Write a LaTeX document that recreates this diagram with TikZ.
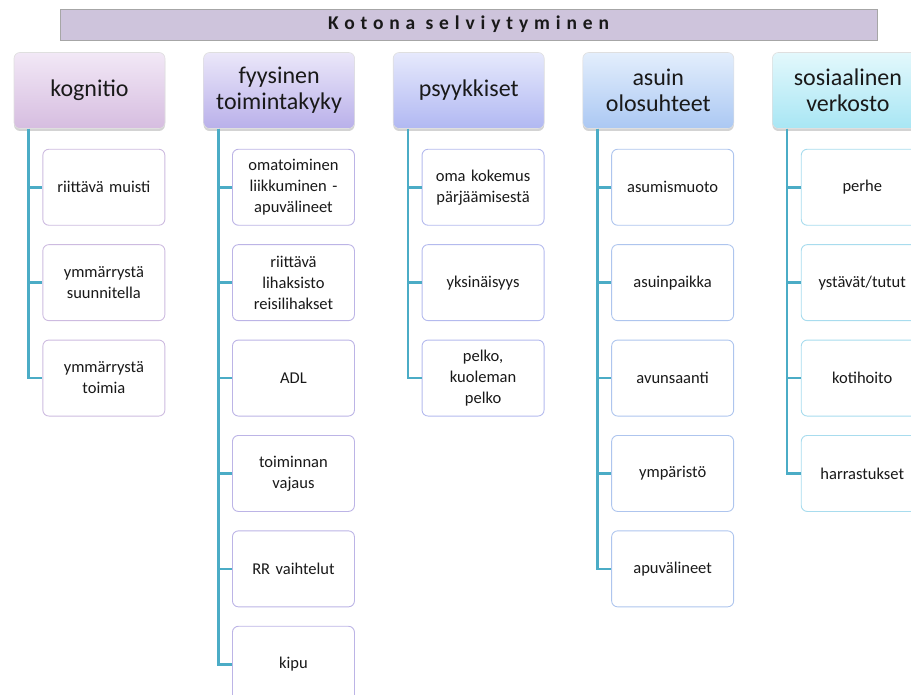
\documentclass[tikz,border=0pt]{standalone}
\usepackage{fontspec}
\setmainfont{Carlito}
\usetikzlibrary{positioning,shadows}

\definecolor{linkteal}{HTML}{4BACC6}
\definecolor{titlefill}{HTML}{CEC4DC}
\definecolor{kogtop}{HTML}{F2E8F6}
\definecolor{kogbot}{HTML}{D6BDE0}
\definecolor{kogline}{HTML}{CDBBE0}
\definecolor{fyytop}{HTML}{EBE7F9}
\definecolor{fyybot}{HTML}{B9B0EA}
\definecolor{fyyline}{HTML}{BCB4E6}
\definecolor{psytop}{HTML}{E6E9FC}
\definecolor{psybot}{HTML}{B1B8F2}
\definecolor{psyline}{HTML}{B4BAEE}
\definecolor{asutop}{HTML}{E3EEFC}
\definecolor{asubot}{HTML}{ABC8F3}
\definecolor{asuline}{HTML}{AEC5EE}
\definecolor{sostop}{HTML}{E3F8FC}
\definecolor{sosbot}{HTML}{A8E6F4}
\definecolor{sosline}{HTML}{A8DCEE}

\tikzset{
  titlebar/.style={rectangle, draw=black!35, fill=titlefill, minimum width=817pt,
    minimum height=31pt, inner sep=0pt, text=black!90,
    font=\fontsize{19.5}{20}\selectfont\bfseries\addfontfeatures{LetterSpace=30}},
  head/.style 2 args={rectangle, rounded corners=6pt, top color=#1, bottom color=#2,
    draw=white!75!gray, line width=0.6pt, minimum width=151pt, minimum height=76pt,
    text width=147pt, inner sep=2pt, align=center, text=black!90,
    drop shadow={shadow xshift=0pt, shadow yshift=-2.5pt, opacity=0.35},
    font=\fontsize{24}{26}\selectfont},
  item/.style={rectangle, rounded corners=6pt, draw=#1, line width=0.9pt, fill=white,
    minimum width=122pt, minimum height=76pt, text width=120pt, inner sep=1pt,
    align=center, text=black!90, font=\fontsize{16.5}{21}\selectfont},
  link/.style={draw=linkteal, line width=2.6pt},
}

\begin{document}
\begin{tikzpicture}[x=1pt, y=-1pt]
    \clip (0,0) rectangle (911,695);

    \node[titlebar] (title) at (468.5,24.5) {Kotona selviytyminen};

    % headers
    \node[head={kogtop}{kogbot}] (kog) at (89.5,90.5) {kognitio};
    \node[head={fyytop}{fyybot}, right=38pt of kog] (fyy) {fyysinen\\toimintakyky};
    \node[head={psytop}{psybot}, right=38pt of fyy] (psy) {psyykkiset};
    \node[head={asutop}{asubot}, right=38pt of psy] (asu) {asuin\\olosuhteet};
    \node[head={sostop}{sosbot}, right=38pt of asu] (sos) {sosiaalinen\\verkosto};

    % kognitio
    \node[item=kogline, below left=20pt and 0pt of kog.south east] (kog1) {riittävä muisti};
    \node[item=kogline, below=18.5pt of kog1] (kog2) {ymmärrystä\\suunnitella};
    \node[item=kogline, below=18.5pt of kog2] (kog3) {ymmärrystä\\toimia};

    % fyysinen toimintakyky
    \node[item=fyyline, below left=20pt and 0pt of fyy.south east] (fyy1) {omatoiminen\\liikkuminen -\\apuvälineet};
    \node[item=fyyline, below=18.5pt of fyy1] (fyy2) {riittävä\\lihaksisto\\reisilihakset};
    \node[item=fyyline, below=18.5pt of fyy2] (fyy3) {ADL};
    \node[item=fyyline, below=18.5pt of fyy3] (fyy4) {toiminnan\\vajaus};
    \node[item=fyyline, below=18.5pt of fyy4] (fyy5) {RR vaihtelut};
    \node[item=fyyline, below=18.5pt of fyy5] (fyy6) {kipu};

    % psyykkiset
    \node[item=psyline, below left=20pt and 0pt of psy.south east] (psy1) {oma kokemus\\pärjäämisestä};
    \node[item=psyline, below=18.5pt of psy1] (psy2) {yksinäisyys};
    \node[item=psyline, below=18.5pt of psy2] (psy3) {pelko,\\kuoleman\\pelko};

    % asuin olosuhteet
    \node[item=asuline, below left=20pt and 0pt of asu.south east] (asu1) {asumismuoto};
    \node[item=asuline, below=18.5pt of asu1] (asu2) {asuinpaikka};
    \node[item=asuline, below=18.5pt of asu2] (asu3) {avunsaanti};
    \node[item=asuline, below=18.5pt of asu3] (asu4) {ympäristö};
    \node[item=asuline, below=18.5pt of asu4] (asu5) {apuvälineet};

    % sosiaalinen verkosto
    \node[item=sosline, below left=20pt and 0pt of sos.south east] (sos1) {perhe};
    \node[item=sosline, below=18.5pt of sos1] (sos2) {ystävät/tutut};
    \node[item=sosline, below=18.5pt of sos2] (sos3) {kotihoito};
    \node[item=sosline, below=18.5pt of sos3] (sos4) {harrastukset};

    \coordinate (kogt) at ([xshift=15pt]kog.south west);
    \coordinate (fyyt) at ([xshift=15pt]fyy.south west);
    \coordinate (psyt) at ([xshift=15pt]psy.south west);
    \coordinate (asut) at ([xshift=15pt]asu.south west);
    \coordinate (sost) at ([xshift=15pt]sos.south west);

    \draw[link] (kogt) |- (kog1.west);
    \draw[link] (kogt) |- (kog2.west);
    \draw[link] (kogt) |- (kog3.west);

    \draw[link] (fyyt) |- (fyy1.west);
    \draw[link] (fyyt) |- (fyy2.west);
    \draw[link] (fyyt) |- (fyy3.west);
    \draw[link] (fyyt) |- (fyy4.west);
    \draw[link] (fyyt) |- (fyy5.west);
    \draw[link] (fyyt) |- (fyy6.west);

    \draw[link] (psyt) |- (psy1.west);
    \draw[link] (psyt) |- (psy2.west);
    \draw[link] (psyt) |- (psy3.west);

    \draw[link] (asut) |- (asu1.west);
    \draw[link] (asut) |- (asu2.west);
    \draw[link] (asut) |- (asu3.west);
    \draw[link] (asut) |- (asu4.west);
    \draw[link] (asut) |- (asu5.west);

    \draw[link] (sost) |- (sos1.west);
    \draw[link] (sost) |- (sos2.west);
    \draw[link] (sost) |- (sos3.west);
    \draw[link] (sost) |- (sos4.west);
\end{tikzpicture}
\end{document}
